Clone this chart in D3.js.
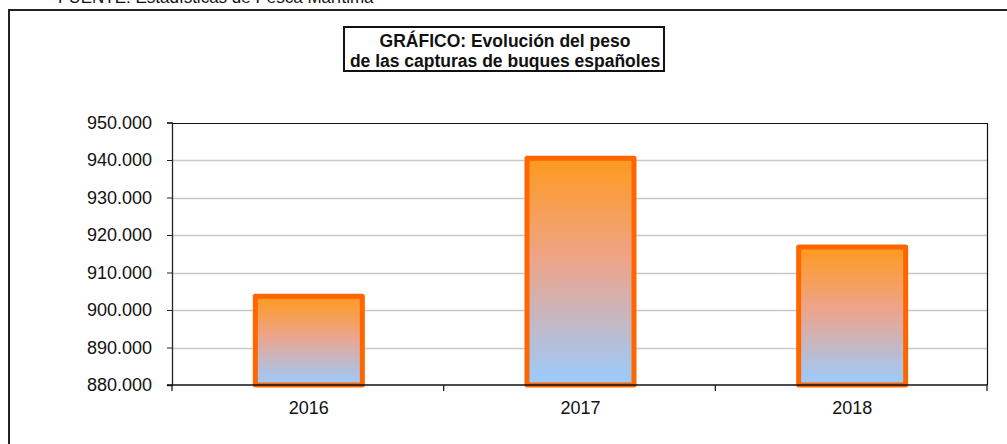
<!DOCTYPE html>
<html>
<head>
<meta charset="utf-8">
<script src="https://cdn.jsdelivr.net/npm/d3@7"></script>
<style>
  body { margin: 0; background: #fff; }
  svg { display: block; font-family: Arial, "Liberation Sans", sans-serif; }
</style>
</head>
<body>
<svg id="chart" width="1007" height="444"></svg>
<script>
// data
const years = ["2016", "2017", "2018"];
const catches = [903700, 940500, 916800];
const yTicks = [880000, 890000, 900000, 910000, 920000, 930000, 940000, 950000];
const titleLines = ["GRÁFICO: Evolución del peso", "de las capturas de buques españoles"];
const sourceNote = "FUENTE: Estadísticas de Pesca Marítima";

const svg = d3.select("#chart");
let margin = { left: 172, right: 20, top: 122.5, bottom: 59 };
let width = +svg.attr("width"), height = +svg.attr("height");

// outer frame (runs off the right and bottom edge)
svg.append("rect")
    .attr("x", 9).attr("y", 10)
    .attr("width", 1010).attr("height", 450)
    .attr("fill", "none").attr("stroke", "#222").attr("stroke-width", 2);

// source note, sits partly above the page like in the original
svg.append("text")
    .attr("x", 58).attr("y", 3)
    .attr("font-size", 17).attr("fill", "#111")
    .text(sourceNote);

let x = d3.scaleBand()
    .domain(years)
    .range([margin.left, width - margin.right])
    .paddingInner(0).paddingOuter(0);
let y = d3.scaleLinear()
    .domain([880000, 950000])
    .range([height - margin.bottom, margin.top]);

let defs = svg.append("defs");
let grad = defs.append("linearGradient").attr("id", "barFill")
    .attr("x1", 0).attr("y1", 0).attr("x2", 0).attr("y2", 1);
grad.append("stop").attr("offset", "0%").attr("stop-color", "#ff9a1e");
grad.append("stop").attr("offset", "45%").attr("stop-color", "#eda48a");
grad.append("stop").attr("offset", "100%").attr("stop-color", "#99ccff");

// gridlines
svg.append("g")
    .selectAll("line")
    .data(yTicks.slice(1, -1))
    .enter().append("line")
    .attr("x1", margin.left).attr("x2", width - margin.right)
    .attr("y1", d => Math.round(y(d)) + 0.5).attr("y2", d => Math.round(y(d)) + 0.5)
    .attr("stroke", "#c8c8c8").attr("stroke-width", 1.3);

// plot area border (top + right)
svg.append("path")
    .attr("d", `M${margin.left},${Math.round(y(950000)) + 0.5}H${width - margin.right + 0.5}V${height - margin.bottom}`)
    .attr("fill", "none").attr("stroke", "#111").attr("stroke-width", 1.2);

// bars
let barW = 107;
svg.append("g")
    .selectAll("rect")
    .data(years.map((yr, i) => ({ yr: yr, v: catches[i] })))
    .enter().append("rect")
    .attr("x", d => x(d.yr) + x.bandwidth() / 2 - barW / 2 + 1)
    .attr("y", d => y(d.v))
    .attr("width", barW)
    .attr("height", d => y(880000) - y(d.v))
    .attr("fill", "url(#barFill)")
    .attr("stroke", "#ff6600").attr("stroke-width", 5)
    .attr("stroke-linejoin", "round");

// y axis
let yAxis = svg.append("g")
    .attr("transform", `translate(${margin.left},0)`)
    .call(d3.axisLeft(y).tickValues(yTicks).tickSize(5).tickPadding(15)
        .tickFormat(d => d3.format(",")(d).replace(/,/g, ".")));
yAxis.select(".domain").attr("stroke", "#222").attr("stroke-width", 1.3);
yAxis.selectAll(".tick line").attr("stroke", "#222");
yAxis.selectAll("text").attr("font-size", 18).attr("fill", "#111")
    .attr("font-family", "Arial, 'Liberation Sans', sans-serif");

// x axis with ticks between categories
let xAxis = svg.append("g")
    .attr("transform", `translate(0,${height - margin.bottom})`);
xAxis.append("line")
    .attr("x1", margin.left - 5).attr("x2", width - margin.right + 0.5)
    .attr("stroke", "#111").attr("stroke-width", 1.5);
xAxis.selectAll(".sep")
    .data(years.concat(["end"]))
    .enter().append("line").attr("class", "sep")
    .attr("x1", (d, i) => margin.left + i * x.bandwidth())
    .attr("x2", (d, i) => margin.left + i * x.bandwidth())
    .attr("y1", 0).attr("y2", 6)
    .attr("stroke", "#222").attr("stroke-width", 1.3);
xAxis.selectAll(".lbl")
    .data(years)
    .enter().append("text").attr("class", "lbl")
    .attr("x", d => x(d) + x.bandwidth() / 2 + 1)
    .attr("y", 29)
    .attr("text-anchor", "middle")
    .attr("font-size", 18).attr("fill", "#111")
    .text(d => d);

// title box
let title = svg.append("g");
title.append("rect")
    .attr("x", 344).attr("y", 27).attr("width", 320).attr("height", 44)
    .attr("fill", "#fff").attr("stroke", "#111").attr("stroke-width", 2);
title.selectAll("text")
    .data(titleLines)
    .enter().append("text")
    .attr("x", 505)
    .attr("y", (d, i) => 47 + i * 20)
    .attr("text-anchor", "middle")
    .attr("font-size", 17.5).attr("font-weight", "bold").attr("fill", "#111")
    .text(d => d);
</script>
</body>
</html>
